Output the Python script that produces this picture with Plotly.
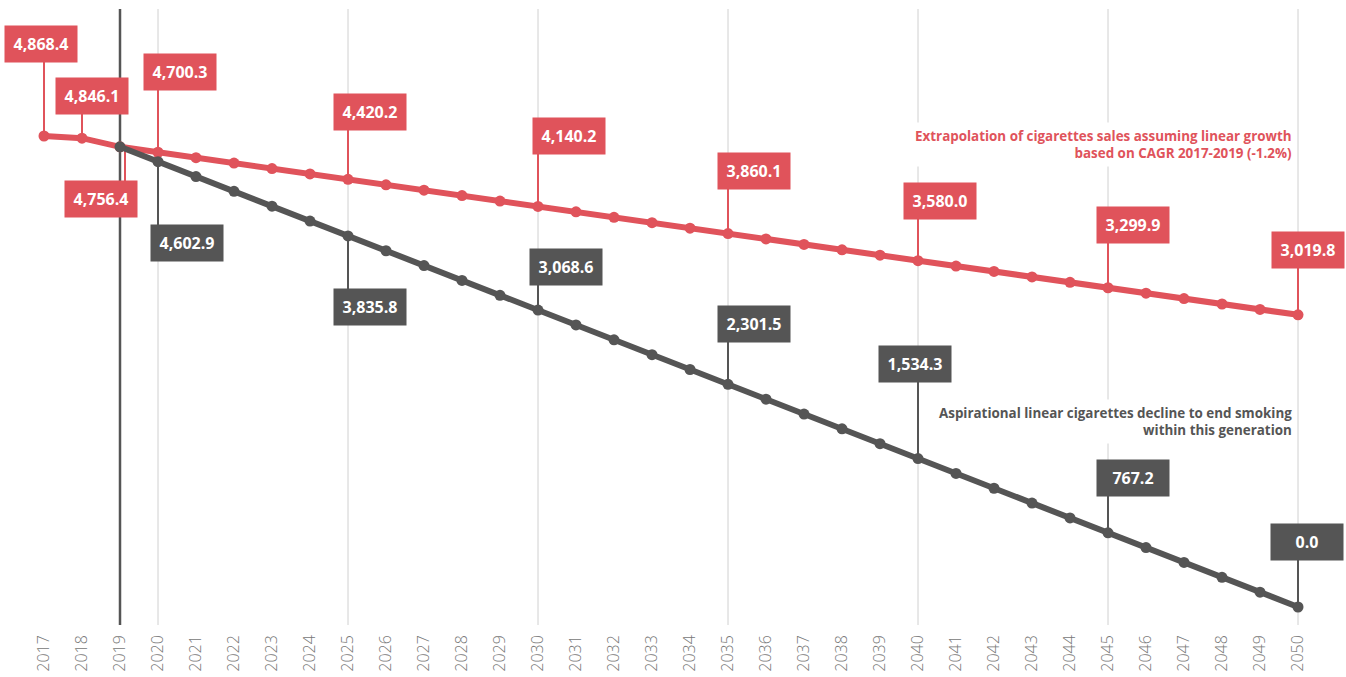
import plotly.graph_objects as go

years = list(range(2017, 2051))

# Extrapolation of cigarette sales (red)
red_values = [4868.4, 4846.1, 4756.4, 4700.3, 4644.3, 4588.3, 4532.3, 4476.2, 4420.2,
              4364.2, 4308.2, 4252.2, 4196.2, 4140.2, 4084.2, 4028.2, 3972.1, 3916.1,
              3860.1, 3804.1, 3748.1, 3692.1, 3636.1, 3580.0, 3524.0, 3468.0, 3412.0,
              3356.0, 3299.9, 3243.9, 3187.9, 3131.9, 3075.8, 3019.8]

# Aspirational linear decline (dark), starting 2019
dark_years = list(range(2019, 2051))
dark_values = [4756.4, 4602.9, 4449.5, 4296.1, 4142.6, 3989.2, 3835.8, 3682.4, 3529.0,
               3375.5, 3222.1, 3068.6, 2915.2, 2761.8, 2608.4, 2454.9, 2301.5, 2148.1,
               1994.7, 1841.2, 1687.8, 1534.3, 1380.9, 1227.5, 1074.1, 920.6, 767.2,
               613.8, 460.3, 306.9, 153.4, 0.0]

red_label_years = [2017, 2018, 2019, 2020, 2025, 2030, 2035, 2040, 2045, 2050]
dark_label_years = [2020, 2025, 2030, 2035, 2040, 2045, 2050]

red_note = "Extrapolation of cigarettes sales assuming linear growth<br>based on CAGR 2017-2019 (-1.2%)"
dark_note = "Aspirational linear cigarettes decline to end smoking<br>within this generation"

RED = "#E0535B"
DARK = "#555555"
GRID = "#D0D0D0"

# label box placement (pixel offsets: dx right, dy up, stem x offset)
red_offsets = {2017: (-3, 92, 0), 2018: (10, 42, 0), 2019: (-19, -52, 5), 2020: (22, 80, 0),
               2025: (22, 67, 0), 2030: (31, 70, 0), 2035: (26, 63, 0), 2040: (22, 60, 0),
               2045: (25, 63, 0), 2050: (10, 65, 0)}
dark_offsets = {2020: (29, -81, 0), 2025: (22, -71, 0), 2030: (28, 43, 0), 2035: (26, 60, 0),
                2040: (-3, 95, 0), 2045: (25, 55, 0), 2050: (9, 65, 0)}

fig = go.Figure()

fig.add_trace(go.Scatter(x=years, y=red_values, mode="lines+markers",
                         line=dict(color=RED, width=6), marker=dict(color=RED, size=11),
                         hoverinfo="x+y", showlegend=False))
fig.add_trace(go.Scatter(x=dark_years, y=dark_values, mode="lines+markers",
                         line=dict(color=DARK, width=6), marker=dict(color=DARK, size=11),
                         hoverinfo="x+y", showlegend=False))

shapes = []
for yr in range(2020, 2051, 5):
    shapes.append(dict(type="line", xref="x", yref="paper", x0=yr, x1=yr, y0=0, y1=1,
                       line=dict(color=GRID, width=1), layer="below"))
shapes.append(dict(type="line", xref="x", yref="paper", x0=2019, x1=2019, y0=0, y1=1,
                   line=dict(color=DARK, width=2.5), layer="below"))

annotations = []


def add_label(yr, val, off, color):
    dx, dy, sx = off
    shapes.append(dict(type="line", xref="x", yref="y", xsizemode="pixel", ysizemode="pixel",
                       xanchor=yr, yanchor=val, x0=sx, x1=sx, y0=0, y1=dy,
                       line=dict(color=color, width=2), layer="below"))
    annotations.append(dict(x=yr, y=val, xref="x", yref="y", text=f"{val:,.1f}",
                            showarrow=False, xshift=dx, yshift=dy,
                            bgcolor=color, borderpad=4, width=64, height=28,
                            font=dict(family="Open Sans", size=16, color="white", weight="bold")))


for yr in red_label_years:
    add_label(yr, red_values[years.index(yr)], red_offsets[yr], RED)
for yr in dark_label_years:
    add_label(yr, dark_values[dark_years.index(yr)], dark_offsets[yr], DARK)

annotations.append(dict(x=2050, y=0, xref="x", yref="y", yanchor="middle", xanchor="right",
                        yshift=463, xshift=-1, text=red_note, align="right", showarrow=False,
                        bgcolor="white", borderpad=4,
                        font=dict(family="Open Sans", size=13.4, color=RED, weight="bold")))
annotations.append(dict(x=2050, y=0, xref="x", yref="y", yanchor="middle", xanchor="right",
                        yshift=186, xshift=-1, text=dark_note, align="right", showarrow=False,
                        bgcolor="white", borderpad=4,
                        font=dict(family="Open Sans", size=13.4, color=DARK, weight="bold")))

fig.update_layout(
    width=1346, height=677,
    margin=dict(l=0, r=0, t=9, b=52),
    paper_bgcolor="white", plot_bgcolor="white",
    shapes=shapes, annotations=annotations,
    xaxis=dict(range=[2015.842, 2051.263], tickmode="array", tickvals=years,
               ticktext=[str(y) for y in years], tickangle=-90, showgrid=False,
               zeroline=False, showline=False, ticks="", ticklabelstandoff=6,
               tickfont=dict(family="Open Sans", size=16, color="#777777", weight=300)),
    yaxis=dict(range=[-186.05, 6181.1], visible=False, showgrid=False, zeroline=False),
)

fig.write_html("out.html", config={"displayModeBar": False},
               post_script="document.body.style.margin='0';document.body.style.padding='0';"
                           "document.documentElement.style.overflow='hidden';")
